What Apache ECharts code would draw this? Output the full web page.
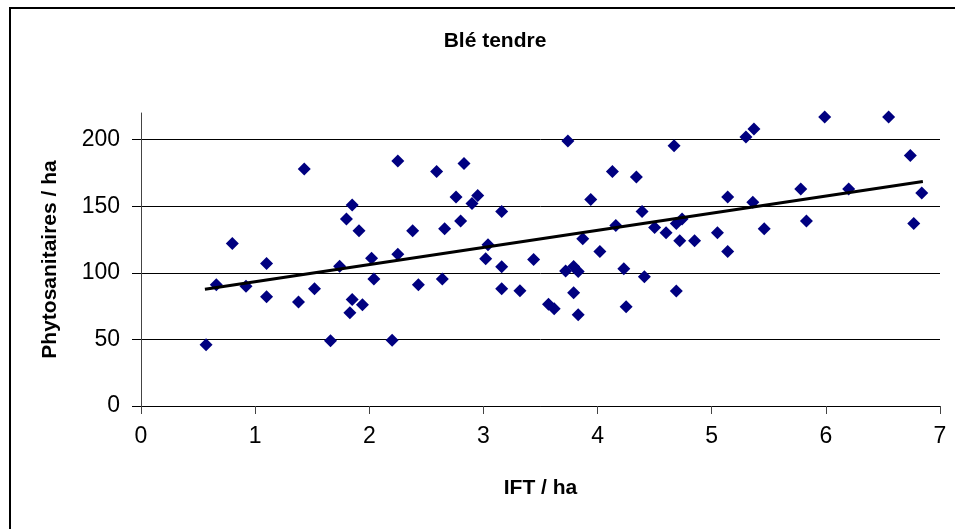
<!DOCTYPE html>
<html>
<head>
<meta charset="utf-8">
<script src="https://cdn.jsdelivr.net/npm/echarts@6/dist/echarts.min.js"></script>
<style>html,body{margin:0;padding:0;background:#fff}#c{width:955px;height:529px}</style>
</head>
<body>
<div id="c"></div>
<script>
const titleText = 'Blé tendre';
const xName = 'IFT / ha';
const yName = 'Phytosanitaires / ha';
const yTicks = [0, 50, 100, 150, 200];
const ift = [1.43,0.80,1.10,0.66,0.92,1.10,1.38,1.52,0.57,1.66,
  1.74,2.25,1.85,1.80,1.91,2.02,2.04,1.85,1.94,1.83,2.20,2.25,2.38,2.43,2.59,2.66,2.64,2.83,2.76,2.80,2.90,2.95,3.04,3.02,3.16,3.16,3.16,3.32,
  3.44,3.74,3.94,4.13,4.34,3.87,4.02,3.72,3.79,3.83,3.79,3.57,3.62,3.83,4.16,4.23,4.25,4.41,4.39,4.50,4.60,4.67,4.69,4.74,4.72,4.85,4.69,5.05,
  5.14,5.14,5.30,5.37,5.36,5.46,5.78,5.83,5.99,6.20,6.55,6.74,6.77,6.84];
const phyto = [178,122,107,91,90,82,78,88,46,49,
  105,184,151,140.5,131.5,111,95.4,80,76,70,49.3,114,131.5,91,176,133,95.4,182,157,139,152,158,121,110.6,146,104.6,88,86.5,
  110,199,155,176,172,125.5,116,101.4,104.8,101,85,76.4,73,68.5,135.5,103,74.5,97,146,134,130,195.5,137,140.5,124,124,86.4,130,
  116,157,202,208,153,133,163,139,217,163,217,188,137,160];
const trendX = [0.56, 6.85];
const trendY = [87.6, 168.6];

const chart = echarts.init(document.getElementById('c'), null, {renderer: 'canvas'});
const font = '"Liberation Sans", Arial, sans-serif';
chart.setOption({
  animation: false,
  backgroundColor: '#fff',
  title: {
    text: titleText, left: 490, top: 26, textAlign: 'center',
    textStyle: {fontFamily: font, fontSize: 21, fontWeight: 'bold', color: '#000'}
  },
  graphic: [{
    type: 'rect', shape: {x: 10, y: 8, width: 1000, height: 600},
    style: {fill: 'none', stroke: '#000', lineWidth: 2}, z: 100
  }],
  grid: {left: 141, top: 113, right: 15, bottom: 123},
  xAxis: {
    type: 'value', min: 0, max: 7, interval: 1,
    name: xName, nameLocation: 'middle', nameGap: 72,
    nameTextStyle: {fontFamily: font, fontSize: 21, fontWeight: 'bold', color: '#000'},
    axisLine: {show: true, lineStyle: {color: '#000', width: 1}},
    axisTick: {show: true, inside: false, length: 8, lineStyle: {color: '#444'}},
    axisLabel: {fontFamily: font, fontSize: 23, color: '#000', margin: 19},
    splitLine: {show: false}
  },
  yAxis: {
    type: 'value', min: 0, max: 220, interval: 50,
    name: yName, nameLocation: 'middle', nameGap: 80, nameRotate: 90,
    nameTextStyle: {fontFamily: font, fontSize: 21, fontWeight: 'bold', color: '#000'},
    axisLine: {show: true, lineStyle: {color: '#444', width: 1}},
    axisTick: {show: true, inside: false, length: 9, customValues: yTicks, lineStyle: {color: '#000'}},
    axisLabel: {fontFamily: font, fontSize: 23, color: '#000', margin: 21, customValues: yTicks},
    splitLine: {show: true, lineStyle: {color: '#000', width: 1}}
  },
  series: [{
    type: 'scatter',
    data: ift.map((x, i) => [x, phyto[i]]),
    symbol: 'diamond', symbolSize: 13,
    itemStyle: {color: '#000080', opacity: 1}, z: 2
  }, {
    type: 'line',
    data: trendX.map((x, i) => [x, trendY[i]]),
    showSymbol: false, symbol: 'none',
    lineStyle: {color: '#000', width: 3}, z: 3
  }]
});
</script>
</body>
</html>
